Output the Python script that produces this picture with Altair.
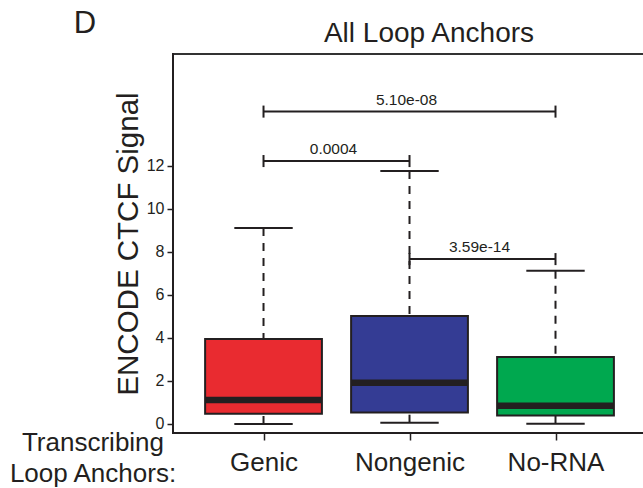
import json
import altair as alt
import pandas as pd

# ---------------- data ----------------
categories = ["Genic", "Nongenic", "No-RNA"]
positions = [1, 2, 3]
whisker_low = [0.0, 0.06, 0.01]
q1 = [0.48, 0.54, 0.39]
median = [1.12, 1.92, 0.85]
q3 = [3.95, 5.02, 3.12]
whisker_high = [9.12, 11.77, 7.13]
box_colors = ["#E92B30", "#343C94", "#00A84F"]

bracket_from = [1, 1, 2]
bracket_to = [2, 3, 3]
bracket_y = [12.23, 14.53, 7.67]
bracket_labels = ["0.0004", "5.10e-08", "3.59e-14"]

y_ticks = [0, 2, 4, 6, 8, 10, 12]

title_text = ["All Loop Anchors"]
panel_text = ["D"]
side_text = ["Transcribing", "Loop Anchors:"]

# ---------------- tables ----------------
boxes = pd.DataFrame({
    "cat": categories, "pos": positions, "lo": whisker_low, "q1": q1,
    "med": median, "q3": q3, "hi": whisker_high,
})
brackets = pd.DataFrame({
    "from": bracket_from, "to": bracket_to, "y": bracket_y, "label": bracket_labels,
})

INK = "#231f20"
FONT = "Liberation Sans"
W, H = 470, 379

x_scale = alt.Scale(domain=[0.38, 3.5993], nice=False, zero=False)
y_scale = alt.Scale(domain=[-0.419, 17.209], nice=False, zero=False)

x_axis = alt.Axis(
    orient="bottom", domain=False,
    values=positions, labelExpr=json.dumps(categories) + "[datum.value - 1]",
    title=None, grid=False, tickColor=INK,
    tickWidth=1.5, tickSize=7, labelFont=FONT, labelFontSize=26, labelColor=INK,
    labelBaseline="alphabetic", labelPadding=30, labelAlign="center",
    labelOverlap=False,
)
y_axis = alt.Axis(
    orient="left", domain=False,
    values=y_ticks, title="ENCODE CTCF Signal", grid=False,
    tickColor=INK, tickWidth=1.5, tickSize=6, labelFont=FONT,
    labelFontSize=16, labelColor=INK, labelPadding=3, titleFont=FONT,
    titleFontSize=29.5, titleFontWeight="normal", titleColor=INK,
    titleAngle=270, titleBaseline="alphabetic", titleAlign="center",
    titleX=-36, titleY=H / 2,
)


def X(field):
    return alt.X(field, type="quantitative", scale=x_scale, axis=x_axis)


def Y(field):
    return alt.Y(field, type="quantitative", scale=y_scale, axis=y_axis)


color = alt.Color("cat:N", scale=alt.Scale(domain=categories, range=box_colors), legend=None)

base = alt.Chart(boxes).transform_calculate(
    box_l="datum.pos - 0.4", box_r="datum.pos + 0.4",
    cap_l="datum.pos - 0.2", cap_r="datum.pos + 0.2",
)

whisk_up = base.mark_rule(color=INK, strokeWidth=2, strokeDash=[8, 7]).encode(
    x=X("pos"), y=Y("hi"), y2="q3:Q")
whisk_dn = base.mark_rule(color=INK, strokeWidth=2, strokeDash=[8, 7]).encode(
    x=X("pos"), y=Y("lo"), y2="q1:Q")
cap_up = base.mark_rule(color=INK, strokeWidth=2).encode(
    x=X("cap_l"), x2="cap_r:Q", y=Y("hi"))
cap_dn = base.mark_rule(color=INK, strokeWidth=2).encode(
    x=X("cap_l"), x2="cap_r:Q", y=Y("lo"))
box = base.mark_rect(stroke=INK, strokeWidth=2, opacity=1).encode(
    x=X("box_l"), x2="box_r:Q", y=Y("q1"), y2="q3:Q", color=color)
med = base.mark_rule(color=INK, strokeWidth=6.5).encode(
    x=X("box_l"), x2="box_r:Q", y=Y("med"))

bbase = alt.Chart(brackets)
br_line = bbase.mark_rule(color=INK, strokeWidth=2).encode(
    x=X("from"), x2="to:Q", y=Y("y"))
br_ends = bbase.transform_fold(["from", "to"], as_=["end", "xpos"]).transform_calculate(
    y_lo="datum.y - 0.28", y_hi="datum.y + 0.28",
).mark_rule(color=INK, strokeWidth=2).encode(
    x=X("xpos"), y=Y("y_lo"), y2="y_hi:Q")
br_text = bbase.transform_calculate(mid="(datum.from + datum.to) / 2").mark_text(
    font=FONT, fontSize=15.5, color=INK, baseline="alphabetic", align="center",
    dy=-7, dx=-3,
).encode(x=X("mid"), y=Y("y"), text="label:N")

# plot frame (open on the right, where it runs off the figure)
frame_df = pd.DataFrame({"a": [0]})
top_frame = alt.Chart(frame_df).mark_rule(color="#333333", strokeWidth=2).encode(
    x=alt.value(0), x2=alt.value(W + 10), y=alt.value(0))
bottom_frame = alt.Chart(frame_df).mark_rule(color=INK, strokeWidth=2).encode(
    x=alt.value(-1), x2=alt.value(W + 10), y=alt.value(H))
left_frame = alt.Chart(frame_df).mark_rule(color=INK, strokeWidth=2).encode(
    x=alt.value(0), y=alt.value(-1), y2=alt.value(H + 1))

title = alt.Chart(pd.DataFrame({"t": title_text})).mark_text(
    font=FONT, fontSize=28, color=INK, align="center", baseline="alphabetic",
).encode(x=alt.value(256), y=alt.value(-12.5), text="t:N")
panel = alt.Chart(pd.DataFrame({"t": panel_text})).mark_text(
    font=FONT, fontSize=31, color=INK, align="center", baseline="alphabetic",
).encode(x=alt.value(-88), y=alt.value(-21), text="t:N")
side1 = alt.Chart(pd.DataFrame({"t": side_text[:1]})).mark_text(
    font=FONT, fontSize=26, color=INK, align="center", baseline="alphabetic",
).encode(x=alt.value(-80), y=alt.value(396.5), text="t:N")
side2 = alt.Chart(pd.DataFrame({"t": side_text[1:]})).mark_text(
    font=FONT, fontSize=26, color=INK, align="center", baseline="alphabetic",
).encode(x=alt.value(-80), y=alt.value(427.7), text="t:N")

chart = alt.layer(
    whisk_up, whisk_dn, cap_up, cap_dn, box, med,
    br_line, br_ends, br_text, top_frame, bottom_frame, left_frame,
    title, panel, side1, side2,
).properties(
    width=W, height=H,
    autosize=alt.AutoSizeParams(type="none"),
    padding={"left": 173, "top": 54, "right": 0, "bottom": 55},
    background="white",
).configure_view(
    stroke="transparent", strokeWidth=0
).configure_axisRight(
    disable=True
).configure_axisTop(
    disable=True
)

chart.save("out.html", embed_options={"renderer": "svg", "actions": False})
